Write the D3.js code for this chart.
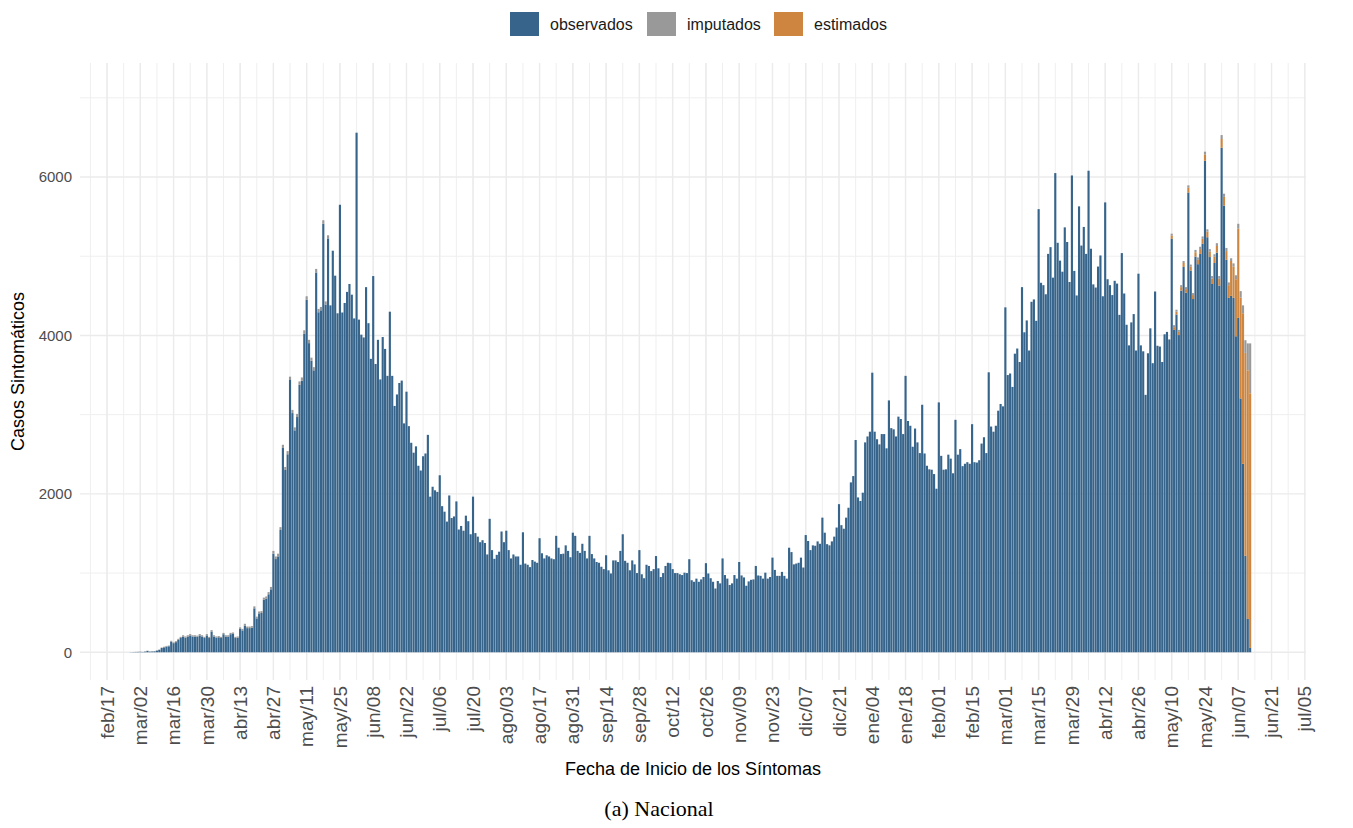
<!DOCTYPE html>
<html>
<head>
<meta charset="utf-8">
<script src="https://cdn.jsdelivr.net/npm/d3@7"></script>
<style>
  body { margin: 0; background: #fff; }
  svg { display: block; font-family: "Liberation Sans", Arial, sans-serif; }
</style>
</head>
<body>
<svg width="1353" height="828"></svg>
<script>
// casos diarios por fecha de inicio de sintomas, desde 2020-02-27
var inicioSerie = "2020-02-27";

var observados2020 = [
  2, 3, 4, 5,
  6, 4, 8, 17, 8, 10, 12, 21, 30, 54,
  62, 72, 76, 133, 115, 128, 156, 180, 199, 185,
  199, 213, 199, 199, 195, 213, 199, 180, 213, 180,
  262, 199, 185, 190, 180, 228, 199, 199, 228, 232,
  180, 185, 295, 276, 338, 305, 305, 309, 555, 427,
  491, 496, 664, 678, 732, 795, 1245, 1177, 1211, 1544,
  2580, 2302, 2500, 3438, 3020, 2802, 2970, 3378, 3428, 4020,
  4450, 3903, 3680, 3560, 4795, 4293, 4318, 5410, 4390, 5225,
  4380, 5070, 4755, 4280, 5650, 4290, 4410, 4550, 4650, 4515,
  4215, 6560, 4200, 4010, 3975, 4610, 4155, 3705, 4750, 3640,
  3945, 3445, 3980, 3830, 3490, 4300, 3490, 3110, 3255, 3400,
  3430, 2890, 3290, 2855, 2645, 2520, 2600, 2355, 2295, 2475,
  2510, 2745, 1965, 2090, 2045, 2025, 2235, 1845, 1775, 1650,
  1980, 1695, 1715, 1905, 1550, 1595, 1535, 1725, 1655, 1490,
  1965, 1505, 1460, 1390, 1415, 1380, 1235, 1685, 1290, 1180,
  1230, 1270, 1525, 1390, 1535, 1290, 1185, 1235, 1210, 1210,
  1105, 1515, 1120, 1105, 1075, 1165, 1145, 1130, 1440, 1250,
  1185, 1225, 1210, 1185, 1175, 1470, 1320, 1240, 1245, 1350,
  1280, 1200, 1510, 1470, 1280, 1255, 1370, 1280, 1185, 1470,
  1240, 1185, 1140, 1130, 1080, 1050, 1225, 1035, 995, 1160,
  1160, 1140, 1280, 1490, 1155, 1130, 1035, 1160, 1110, 1000,
  1290, 985, 935, 1105, 1090, 1025, 1050, 1215, 1060, 950,
  1000, 1090, 1130, 1125, 1050, 1000, 1000, 985, 975, 1005,
  1000, 1175, 910, 890, 930, 890, 920, 950, 1125, 995,
  935, 890, 805, 900, 870, 1185, 975, 930, 850, 870,
  975, 930, 1140, 970, 945, 840, 895, 915, 920, 1090,
  970, 965, 930, 1005, 930, 950, 1195, 1040, 965, 965,
  1015, 965, 930, 1320, 1265, 1110, 1120, 1130, 1195, 1070,
  1480, 1405, 1290, 1350, 1345, 1400, 1370, 1700, 1510, 1365,
  1350, 1400, 1460, 1575, 1870, 1605, 1560, 1700, 1825, 2145,
  2225, 2680, 1955, 1910, 2015
];

var observados2021 = [
  2650, 2725, 2785, 3530, 2785,
  2690, 2625, 2755, 2755, 2575, 3180, 2830, 2815, 2725, 2975,
  2945, 2755, 3490, 2920, 2860, 2595, 2825, 2650, 2515, 3125,
  2510, 2355, 2310, 2305, 2250, 2065, 3155, 2480, 2305, 2310,
  2495, 2445, 2260, 2935, 2495, 2565, 2350, 2380, 2400, 2380,
  2880, 2400, 2395, 2425, 2635, 2715, 2515, 3535, 2850, 2785,
  2860, 3050, 3135, 3105, 4355, 3500, 3520, 3350, 3770, 3835,
  3665, 4610, 4040, 4190, 3810, 4425, 4455, 4185, 5595, 4665,
  4635, 4520, 5030, 5115, 4730, 6050, 5170, 4945, 4805, 5365,
  5180, 4675, 6020, 4815, 4505, 5630, 5135, 5370, 5030, 6080,
  5095, 4645, 4605, 4870, 5010, 4495, 5680, 4710, 4635, 4510,
  4690, 4655, 4260, 5040, 4530, 4135, 3875, 4165, 4270, 3810,
  4780, 3875, 3800, 3250, 3775, 4090, 3650, 4555, 3870, 3860,
  3665, 4015, 4045, 3950,
  5220, 4070, 4265, 4005, 4565, 4865, 4540, 5805, 4820, 4460,
  4995, 4900, 5030, 5160, 6205, 5240, 4990, 4650, 4915, 5045,
  4630, 6370, 5640, 4955, 4475, 4500, 4475, 3990, 4225, 3205,
  2380, 1220, 420, 55
];

// imputados de los primeros dias (2020-02-27 a 2020-05-20)
var imputadosInicio = [
  0, 0, 1, 1,
  2, 1, 2, 3, 2, 2, 3, 4, 5, 6,
  8, 8, 9, 12, 10, 12, 14, 15, 16, 15,
  16, 17, 16, 16, 15, 17, 16, 15, 17, 15,
  18, 16, 15, 15, 15, 17, 16, 16, 17, 18,
  15, 15, 20, 19, 22, 20, 20, 21, 25, 23,
  24, 24, 26, 27, 28, 30, 35, 33, 34, 36,
  40, 38, 40, 42, 40, 38, 40, 42, 42, 45,
  45, 42, 40, 40, 45, 42, 42, 45, 40, 40
];

// ultimas semanas (2021-05-10 a 2021-06-12)
var inicioFinal = "2021-05-10";
var estimadosFinal = [
  40, 35, 35, 40, 45, 50, 45, 60, 50, 50,
  55, 55, 60, 60, 80, 70, 70, 70, 80, 85,
  85, 110, 110, 110, 160, 440, 395, 720, 1125, 1275,
  1900, 2560, 3140, 3215
];
var imputadosFinal = [
  25, 25, 25, 25, 25, 25, 25, 30, 25, 25,
  30, 30, 30, 30, 35, 30, 30, 30, 30, 35,
  35, 50, 40, 40, 35, 35, 40, 50, 60, 80,
  100, 160, 340, 630
];

var etiquetasX = ["feb/17", "mar/02", "mar/16", "mar/30", "abr/13", "abr/27", "may/11", "may/25",
  "jun/08", "jun/22", "jul/06", "jul/20", "ago/03", "ago/17", "ago/31", "sep/14", "sep/28",
  "oct/12", "oct/26", "nov/09", "nov/23", "dic/07", "dic/21", "ene/04", "ene/18", "feb/01",
  "feb/15", "mar/01", "mar/15", "mar/29", "abr/12", "abr/26", "may/10", "may/24", "jun/07",
  "jun/21", "jul/05"];
var primerTick = "2020-02-17";

var ticksY = [0, 2000, 4000, 6000];
var ticksYMenor = [1000, 3000, 5000, 7000];

var series = ["observados", "imputados", "estimados"];
var colores = {observados: "#36648b", imputados: "#999999", estimados: "#cd853f"};

var parse = d3.utcParse("%Y-%m-%d");
var t0 = parse(inicioSerie), tFin = parse(inicioFinal);
var observados = observados2020.concat(observados2021);

var data = observados.map(function(v, i) {
  var fecha = d3.utcDay.offset(t0, i);
  var j = d3.utcDay.count(tFin, fecha);
  return {
    fecha: fecha,
    observados: v,
    estimados: j >= 0 ? estimadosFinal[j] : 0,
    imputados: i < imputadosInicio.length ? imputadosInicio[i] : (j >= 0 ? imputadosFinal[j] : 0)
  };
});

var svg = d3.select("svg"),
    margin = {top: 63, right: 47, bottom: 148, left: 80},
    width = +svg.attr("width") - margin.left - margin.right,
    height = +svg.attr("height") - margin.top - margin.bottom,
    g = svg.append("g").attr("transform", "translate(" + margin.left + "," + margin.top + ")");

var x = d3.scaleUtc()
    .domain([new Date(Date.UTC(2020, 1, 5, 15)), new Date(Date.UTC(2021, 6, 5, 12))])
    .range([0, width]);

var y = d3.scaleLinear()
    .domain([-350, 7440])
    .range([height, 0]);

var diaPx = x(d3.utcDay.offset(t0, 1)) - x(t0);

// grid
var lunes = d3.utcMonday.range(x.domain()[0], x.domain()[1]);
var ticksX = etiquetasX.map(function(d, i) { return d3.utcDay.offset(parse(primerTick), 14 * i); });

g.append("g").selectAll("line")
    .data(ticksYMenor)
    .join("line")
    .attr("x1", 0).attr("x2", width)
    .attr("y1", d => y(d)).attr("y2", d => y(d))
    .attr("stroke", "#efefef").attr("stroke-width", 1);

g.append("g").selectAll("line")
    .data(lunes)
    .join("line")
    .attr("x1", d => x(d)).attr("x2", d => x(d))
    .attr("y1", 0).attr("y2", height)
    .attr("stroke", "#efefef").attr("stroke-width", 1);

g.append("g").selectAll("line")
    .data(ticksY)
    .join("line")
    .attr("x1", 0).attr("x2", width)
    .attr("y1", d => y(d)).attr("y2", d => y(d))
    .attr("stroke", "#ebebeb").attr("stroke-width", 1.4);

g.append("g").selectAll("line")
    .data(ticksX)
    .join("line")
    .attr("x1", d => x(d)).attr("x2", d => x(d))
    .attr("y1", 0).attr("y2", height)
    .attr("stroke", "#ebebeb").attr("stroke-width", 1.4);

// barras apiladas
var stack = d3.stack().keys(["observados", "estimados", "imputados"]);
var capas = stack(data);

g.append("g").selectAll("g")
    .data(capas)
    .join("g")
    .attr("fill", d => colores[d.key])
    .selectAll("rect")
    .data(d => d.filter(p => p[1] > p[0]))
    .join("rect")
    .attr("x", d => x(d.data.fecha) - diaPx * 0.45)
    .attr("width", diaPx * 0.9)
    .attr("y", d => y(d[1]))
    .attr("height", d => y(d[0]) - y(d[1]));

// ejes
g.append("g").selectAll("text")
    .data(ticksY)
    .join("text")
    .attr("x", -8)
    .attr("y", d => y(d))
    .attr("dy", "0.35em")
    .attr("text-anchor", "end")
    .attr("fill", "#4d4d4d")
    .style("font-size", "15px")
    .text(d => d);

g.append("g").selectAll("text")
    .data(ticksX)
    .join("text")
    .attr("transform", d => "translate(" + x(d) + "," + (height + 6) + ") rotate(-90)")
    .attr("dy", "0.35em")
    .attr("text-anchor", "end")
    .attr("fill", "#4d4d4d")
    .style("font-size", "19px")
    .text((d, i) => etiquetasX[i]);

svg.append("text")
    .attr("transform", "translate(24," + (margin.top + height / 2) + ") rotate(-90)")
    .attr("text-anchor", "middle")
    .style("font-size", "18px")
    .text("Casos Sintomáticos");

svg.append("text")
    .attr("x", margin.left + width / 2)
    .attr("y", 775)
    .attr("text-anchor", "middle")
    .style("font-size", "18px")
    .text("Fecha de Inicio de los Síntomas");

svg.append("text")
    .attr("x", 659)
    .attr("y", 816)
    .attr("text-anchor", "middle")
    .style("font-family", "'Liberation Serif', 'DejaVu Serif', serif")
    .style("font-size", "22px")
    .text("(a) Nacional");

// leyenda
var leyenda = svg.append("g").attr("transform", "translate(510,12)");
var posLeyenda = [0, 137, 264];
var item = leyenda.selectAll("g")
    .data(series)
    .join("g")
    .attr("transform", (d, i) => "translate(" + posLeyenda[i] + ",0)");
item.append("rect")
    .attr("width", 29).attr("height", 24)
    .attr("fill", d => colores[d]);
item.append("text")
    .attr("x", 40).attr("y", 12)
    .attr("dy", "0.35em")
    .style("font-size", "16px")
    .attr("fill", "#1a1a1a")
    .text(d => d);
</script>
</body>
</html>
